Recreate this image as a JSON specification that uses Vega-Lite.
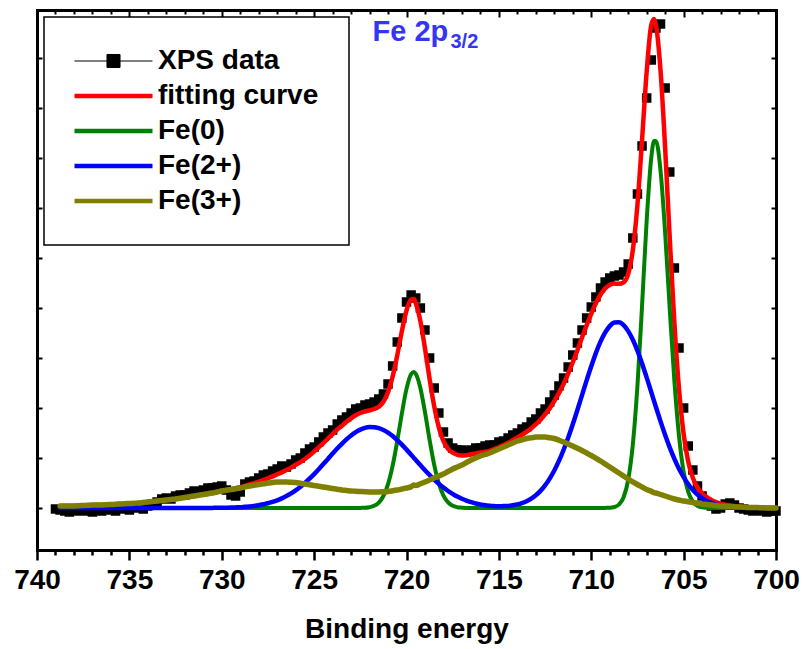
{
  "$schema": "https://vega.github.io/schema/vega-lite/v6.json",
  "width": 739,
  "height": 540,
  "autosize": "none",
  "padding": {"left": 37, "top": 10, "right": 27, "bottom": 99},
  "background": "white",
  "config": {"view": {"stroke": null}, "font": "Liberation Sans"},
  "data": {"values": [
    {"x":739.0,"xps":-1},
    {"x":738.75,"xps":-2,"fit":2,"fe0":0,"fe2":0,"fe3":2},
    {"x":738.5,"xps":-3,"fit":2,"fe0":0,"fe2":0,"fe3":2},
    {"x":738.25,"xps":-4,"fit":2,"fe0":0,"fe2":0,"fe3":2},
    {"x":738.0,"xps":-2,"fit":2,"fe0":0,"fe2":0,"fe3":2},
    {"x":737.75,"xps":-3,"fit":2.2,"fe0":0,"fe2":0,"fe3":2.2},
    {"x":737.5,"xps":-1,"fit":2.5,"fe0":0,"fe2":0,"fe3":2.5},
    {"x":737.25,"xps":-3,"fit":2.8,"fe0":0,"fe2":0,"fe3":2.8},
    {"x":737.0,"xps":-4,"fit":3,"fe0":0,"fe2":0,"fe3":3},
    {"x":736.75,"xps":-2,"fit":3,"fe0":0,"fe2":0,"fe3":3},
    {"x":736.5,"xps":-3,"fit":3,"fe0":0,"fe2":0,"fe3":3},
    {"x":736.25,"xps":-1,"fit":3.2,"fe0":0,"fe2":0,"fe3":3.2},
    {"x":736.0,"xps":-2,"fit":3.5,"fe0":0,"fe2":0,"fe3":3.5},
    {"x":735.75,"xps":-3,"fit":3.8,"fe0":0,"fe2":0,"fe3":3.8},
    {"x":735.5,"xps":0,"fit":4,"fe0":0,"fe2":0,"fe3":4},
    {"x":735.25,"xps":-1,"fit":4.2,"fe0":0,"fe2":0,"fe3":4.2},
    {"x":735.0,"xps":-2,"fit":4.5,"fe0":0,"fe2":0,"fe3":4.5},
    {"x":734.75,"xps":1,"fit":4.8,"fe0":0,"fe2":0,"fe3":4.8},
    {"x":734.5,"xps":0,"fit":5,"fe0":0,"fe2":0,"fe3":5},
    {"x":734.25,"xps":-1,"fit":5.5,"fe0":0,"fe2":0,"fe3":5.5},
    {"x":734.0,"xps":2,"fit":6,"fe0":0,"fe2":0,"fe3":6},
    {"x":733.75,"xps":4,"fit":6.5,"fe0":0,"fe2":0,"fe3":6.5},
    {"x":733.5,"xps":6,"fit":7,"fe0":0,"fe2":0,"fe3":7},
    {"x":733.25,"xps":9,"fit":7.5,"fe0":0,"fe2":0,"fe3":7.5},
    {"x":733.0,"xps":10,"fit":8,"fe0":0,"fe2":0,"fe3":8},
    {"x":732.75,"xps":9,"fit":8.5,"fe0":0,"fe2":0,"fe3":8.5},
    {"x":732.5,"xps":12,"fit":9,"fe0":0,"fe2":0,"fe3":9},
    {"x":732.25,"xps":13,"fit":9.8,"fe0":0,"fe2":0,"fe3":9.8},
    {"x":732.0,"xps":13,"fit":10.5,"fe0":0,"fe2":0,"fe3":10.5},
    {"x":731.75,"xps":15,"fit":11.2,"fe0":0,"fe2":0,"fe3":11.2},
    {"x":731.5,"xps":17,"fit":12,"fe0":0,"fe2":0,"fe3":12},
    {"x":731.25,"xps":16,"fit":12.8,"fe0":0,"fe2":0,"fe3":12.8},
    {"x":731.0,"xps":18,"fit":13.5,"fe0":0,"fe2":0,"fe3":13.5},
    {"x":730.75,"xps":20,"fit":14.2,"fe0":0,"fe2":0,"fe3":14.2},
    {"x":730.5,"xps":20,"fit":15.1,"fe0":0,"fe2":0.1,"fe3":15},
    {"x":730.25,"xps":21,"fit":16.2,"fe0":0,"fe2":0.2,"fe3":16},
    {"x":730.0,"xps":22,"fit":17.2,"fe0":0,"fe2":0.2,"fe3":17},
    {"x":729.75,"xps":18,"fit":18.1,"fe0":0,"fe2":0.3,"fe3":17.8},
    {"x":729.5,"xps":13,"fit":18.9,"fe0":0,"fe2":0.4,"fe3":18.5},
    {"x":729.25,"xps":12,"fit":19.8,"fe0":0,"fe2":0.6,"fe3":19.2},
    {"x":729.0,"xps":16,"fit":20.8,"fe0":0,"fe2":0.8,"fe3":20},
    {"x":728.75,"xps":24,"fit":22.2,"fe0":0,"fe2":1.2,"fe3":21},
    {"x":728.5,"xps":26,"fit":23.6,"fe0":0,"fe2":1.6,"fe3":22},
    {"x":728.25,"xps":27,"fit":24.9,"fe0":0,"fe2":2.1,"fe3":22.8},
    {"x":728.0,"xps":30,"fit":26.3,"fe0":0,"fe2":2.8,"fe3":23.5},
    {"x":727.75,"xps":33,"fit":27.9,"fe0":0,"fe2":3.7,"fe3":24.2},
    {"x":727.5,"xps":34,"fit":29.7,"fe0":0,"fe2":4.7,"fe3":25},
    {"x":727.25,"xps":37,"fit":31.6,"fe0":0,"fe2":6.1,"fe3":25.5},
    {"x":727.0,"xps":39,"fit":33.7,"fe0":0,"fe2":7.7,"fe3":26},
    {"x":726.75,"xps":42,"fit":35.6,"fe0":0,"fe2":9.6,"fe3":26},
    {"x":726.5,"xps":41,"fit":37.9,"fe0":0,"fe2":11.9,"fe3":26},
    {"x":726.25,"xps":44,"fit":40.4,"fe0":0,"fe2":14.6,"fe3":25.8},
    {"x":726.0,"xps":48,"fit":43.2,"fe0":0,"fe2":17.7,"fe3":25.5},
    {"x":725.75,"xps":50,"fit":45.9,"fe0":0,"fe2":21.1,"fe3":24.8},
    {"x":725.5,"xps":55,"fit":49,"fe0":0,"fe2":25,"fe3":24},
    {"x":725.25,"xps":59,"fit":52.5,"fe0":0,"fe2":29.3,"fe3":23.2},
    {"x":725.0,"xps":61,"fit":56.4,"fe0":0,"fe2":33.9,"fe3":22.5},
    {"x":724.75,"xps":66,"fit":60.6,"fe0":0,"fe2":38.8,"fe3":21.8},
    {"x":724.5,"xps":71,"fit":64.9,"fe0":0,"fe2":43.9,"fe3":21},
    {"x":724.25,"xps":75,"fit":69.3,"fe0":0,"fe2":49.1,"fe3":20.2},
    {"x":724.0,"xps":78,"fit":73.9,"fe0":0,"fe2":54.4,"fe3":19.5},
    {"x":723.75,"xps":84,"fit":78.3,"fe0":0,"fe2":59.5,"fe3":18.8},
    {"x":723.5,"xps":88,"fit":82.2,"fe0":0,"fe2":64.2,"fe3":18},
    {"x":723.25,"xps":91,"fit":86.2,"fe0":0,"fe2":68.7,"fe3":17.5},
    {"x":723.0,"xps":95,"fit":89.6,"fe0":0,"fe2":72.6,"fe3":17},
    {"x":722.75,"xps":99,"fit":92.7,"fe0":0,"fe2":75.9,"fe3":16.8},
    {"x":722.5,"xps":100,"fit":95,"fe0":0.1,"fe2":78.4,"fe3":16.5},
    {"x":722.25,"xps":103,"fit":96.5,"fe0":0.2,"fe2":80.1,"fe3":16.2},
    {"x":722.0,"xps":104,"fit":97.7,"fe0":0.8,"fe2":80.9,"fe3":16},
    {"x":721.75,"xps":106,"fit":99,"fe0":2.2,"fe2":80.8,"fe3":16},
    {"x":721.5,"xps":109,"fit":101.2,"fe0":5.4,"fe2":79.8,"fe3":16},
    {"x":721.25,"xps":114,"fit":106.2,"fe0":12,"fe2":78,"fe3":16.2},
    {"x":721.0,"xps":124,"fit":115.7,"fe0":23.9,"fe2":75.3,"fe3":16.5},
    {"x":720.75,"xps":142,"fit":131.5,"fe0":42.4,"fe2":71.9,"fe3":17.2},
    {"x":720.5,"xps":166,"fit":152.8,"fe0":67,"fe2":67.8,"fe3":18},
    {"x":720.25,"xps":190,"fit":176.9,"fe0":94.6,"fe2":63.3,"fe3":19},
    {"x":720.0,"xps":206,"fit":197.5,"fe0":119.1,"fe2":58.4,"fe3":20},
    {"x":719.75,"xps":213,"fit":208.4,"fe0":133.9,"fe2":53.3,"fe3":21.2},
    {"x":719.6,"fit":209.1,"fe0":136,"fe2":50.1,"fe3":23},
    {"x":719.5,"xps":210,"fit":204.8,"fe0":134.2,"fe2":48.1,"fe3":22.5},
    {"x":719.25,"xps":200,"fit":187.1,"fe0":120,"fe2":42.9,"fe3":24.2},
    {"x":719.0,"xps":178,"fit":159.6,"fe0":95.8,"fe2":37.8,"fe3":26},
    {"x":718.75,"xps":150,"fit":129.1,"fe0":68.1,"fe2":33,"fe3":28},
    {"x":718.5,"xps":120,"fit":101.6,"fe0":43.2,"fe2":28.4,"fe3":30},
    {"x":718.25,"xps":95,"fit":80.7,"fe0":24.5,"fe2":24.2,"fe3":32},
    {"x":718.0,"xps":76,"fit":66.8,"fe0":12.4,"fe2":20.4,"fe3":34},
    {"x":717.75,"xps":65,"fit":59.1,"fe0":5.6,"fe2":17,"fe3":36.5},
    {"x":717.5,"xps":60,"fit":55.3,"fe0":2.2,"fe2":14.1,"fe3":39},
    {"x":717.25,"xps":58,"fit":53.2,"fe0":0.8,"fe2":11.4,"fe3":41},
    {"x":717.0,"xps":58,"fit":52.5,"fe0":0.3,"fe2":9.2,"fe3":43},
    {"x":716.75,"xps":56,"fit":52.8,"fe0":0,"fe2":7.3,"fe3":45.5},
    {"x":716.5,"xps":58,"fit":53.8,"fe0":0,"fe2":5.8,"fe3":48},
    {"x":716.25,"xps":60,"fit":54.5,"fe0":0,"fe2":4.5,"fe3":50},
    {"x":716.0,"xps":60,"fit":55.5,"fe0":0,"fe2":3.5,"fe3":52},
    {"x":715.75,"xps":62,"fit":56.2,"fe0":0,"fe2":2.7,"fe3":53.5},
    {"x":715.5,"xps":63,"fit":57.2,"fe0":0,"fe2":2.2,"fe3":55},
    {"x":715.25,"xps":63,"fit":58.9,"fe0":0,"fe2":1.9,"fe3":57},
    {"x":715.0,"xps":66,"fit":60.7,"fe0":0,"fe2":1.7,"fe3":59},
    {"x":714.75,"xps":67,"fit":62.9,"fe0":0,"fe2":1.9,"fe3":61},
    {"x":714.5,"xps":70,"fit":65.1,"fe0":0,"fe2":2.1,"fe3":63},
    {"x":714.25,"xps":73,"fit":67.8,"fe0":0,"fe2":2.8,"fe3":65},
    {"x":714.0,"xps":75,"fit":70.6,"fe0":0,"fe2":3.6,"fe3":67},
    {"x":713.75,"xps":79,"fit":73.1,"fe0":0,"fe2":4.9,"fe3":68.2},
    {"x":713.5,"xps":81,"fit":76.3,"fe0":0,"fe2":6.8,"fe3":69.5},
    {"x":713.25,"xps":86,"fit":79.6,"fe0":0,"fe2":9.4,"fe3":70.2},
    {"x":713.0,"xps":89,"fit":83.7,"fe0":0,"fe2":12.7,"fe3":71},
    {"x":712.75,"xps":95,"fit":88.1,"fe0":0,"fe2":17.1,"fe3":71},
    {"x":712.5,"xps":99,"fit":93.6,"fe0":0,"fe2":22.6,"fe3":71},
    {"x":712.25,"xps":106,"fit":99.6,"fe0":0,"fe2":29.4,"fe3":70.2},
    {"x":712.0,"xps":113,"fit":107,"fe0":0,"fe2":37.5,"fe3":69.5},
    {"x":711.75,"xps":122,"fit":114.9,"fe0":0,"fe2":47.1,"fe3":67.8},
    {"x":711.5,"xps":130,"fit":124,"fe0":0,"fe2":58,"fe3":66},
    {"x":711.25,"xps":141,"fit":134.3,"fe0":0,"fe2":70.3,"fe3":64},
    {"x":711.0,"xps":153,"fit":145.7,"fe0":0,"fe2":83.7,"fe3":62},
    {"x":710.75,"xps":165,"fit":157.8,"fe0":0,"fe2":98,"fe3":59.8},
    {"x":710.5,"xps":178,"fit":170.4,"fe0":0,"fe2":112.9,"fe3":57.5},
    {"x":710.25,"xps":190,"fit":182.6,"fe0":0,"fe2":127.6,"fe3":55},
    {"x":710.0,"xps":201,"fit":194.2,"fe0":0,"fe2":141.7,"fe3":52.5},
    {"x":709.75,"xps":211,"fit":204.7,"fe0":0,"fe2":154.9,"fe3":49.8},
    {"x":709.5,"xps":220,"fit":213.3,"fe0":0,"fe2":166.3,"fe3":47},
    {"x":709.25,"xps":226,"fit":219.5,"fe0":0.1,"fe2":175.4,"fe3":44},
    {"x":709.0,"xps":230,"fit":223.1,"fe0":0.2,"fe2":181.9,"fe3":41},
    {"x":708.75,"xps":232,"fit":224.4,"fe0":1,"fe2":185.4,"fe3":38},
    {"x":708.5,"xps":233,"fit":224.2,"fe0":3.5,"fe2":185.7,"fe3":35},
    {"x":708.25,"xps":236,"fit":225.7,"fe0":10.8,"fe2":182.9,"fe3":32},
    {"x":708.0,"xps":244,"fit":234.1,"fe0":28.2,"fe2":176.9,"fe3":29},
    {"x":707.75,"xps":270,"fit":257.9,"fe0":63.4,"fe2":168.3,"fe3":26.2},
    {"x":707.5,"xps":314,"fit":303.1,"fe0":122.2,"fe2":157.4,"fe3":23.5},
    {"x":707.25,"xps":362,"fit":368,"fe0":202.4,"fe2":144.6,"fe3":21},
    {"x":707.0,"xps":410,"fit":436.3,"fe0":287.4,"fe2":130.4,"fe3":18.5},
    {"x":706.75,"xps":448,"fit":483.2,"fe0":350.5,"fe2":115.9,"fe3":16.8},
    {"x":706.6,"fit":489.1,"fe0":367,"fe2":106.8,"fe3":15.3},
    {"x":706.5,"xps":480,"fit":483.1,"fe0":367.1,"fe2":101,"fe3":15},
    {"x":706.25,"xps":484,"fit":437.6,"fe0":337.5,"fe2":86.6,"fe3":13.5},
    {"x":706.0,"xps":420,"fit":359.9,"fe0":274.9,"fe2":73,"fe3":12},
    {"x":705.75,"xps":336,"fit":269.4,"fe0":198.5,"fe2":60.4,"fe3":10.5},
    {"x":705.5,"xps":240,"fit":185.2,"fe0":127,"fe2":49.2,"fe3":9},
    {"x":705.25,"xps":160,"fit":119.2,"fe0":72,"fe2":39.2,"fe3":8},
    {"x":705.0,"xps":100,"fit":74.1,"fe0":36.2,"fe2":30.9,"fe3":7},
    {"x":704.75,"xps":62,"fit":46.2,"fe0":16.2,"fe2":23.8,"fe3":6.2},
    {"x":704.5,"xps":38,"fit":30,"fe0":6.4,"fe2":18.1,"fe3":5.5},
    {"x":704.25,"xps":22,"fit":20.5,"fe0":2.2,"fe2":13.5,"fe3":4.8},
    {"x":704.0,"xps":12,"fit":14.6,"fe0":0.7,"fe2":9.9,"fe3":4},
    {"x":703.75,"xps":6,"fit":10.8,"fe0":0.2,"fe2":7.1,"fe3":3.5},
    {"x":703.5,"xps":2,"fit":8.1,"fe0":0,"fe2":5.1,"fe3":3},
    {"x":703.25,"xps":-1,"fit":6,"fe0":0,"fe2":3.5,"fe3":2.5},
    {"x":703.0,"xps":0,"fit":4.4,"fe0":0,"fe2":2.4,"fe3":2},
    {"x":702.75,"xps":4,"fit":3.4,"fe0":0,"fe2":1.6,"fe3":1.8},
    {"x":702.5,"xps":5,"fit":2.6,"fe0":0,"fe2":1.1,"fe3":1.5},
    {"x":702.25,"xps":3,"fit":1.9,"fe0":0,"fe2":0.7,"fe3":1.2},
    {"x":702.0,"xps":0,"fit":1.4,"fe0":0,"fe2":0.4,"fe3":1},
    {"x":701.75,"xps":-1,"fit":1.1,"fe0":0,"fe2":0.3,"fe3":0.8},
    {"x":701.5,"xps":-2,"fit":0.7,"fe0":0,"fe2":0.2,"fe3":0.5},
    {"x":701.25,"xps":-3,"fit":0.6,"fe0":0,"fe2":0.1,"fe3":0.5},
    {"x":701.0,"xps":-2,"fit":0.5,"fe0":0,"fe2":0,"fe3":0.5},
    {"x":700.75,"xps":-3,"fit":0.2,"fe0":0,"fe2":0,"fe3":0.2},
    {"x":700.5,"xps":-4,"fit":0,"fe0":0,"fe2":0,"fe3":0},
    {"x":700.25,"xps":-3,"fit":0,"fe0":0,"fe2":0,"fe3":0},
    {"x":700.0,"xps":-3,"fit":0,"fe0":0,"fe2":0,"fe3":0}
  ]},
  "transform": [
    {"fold": ["xps", "fit", "fe0", "fe2", "fe3"], "as": ["series", "y"]},
    {"filter": "isValid(datum.y)"}
  ],
  "resolve": {"axis": {"x": "independent", "y": "independent"}},
  "layer": [
    {
      "transform": [{"filter": "datum.series === 'xps'"}],
      "mark": {"type": "point", "shape": "square", "filled": true, "size": 90, "opacity": 1, "color": "black"},
      "encoding": {
        "x": {"field": "x", "type": "quantitative",
          "scale": {"domain": [700, 740], "reverse": true, "nice": false, "zero": false},
          "axis": {"orient": "top", "values": [700,701,702,703,704,705,706,707,708,709,710,711,712,713,714,715,716,717,718,719,720,721,722,723,724,725,726,727,728,729,730,731,732,733,734,735,736,737,738,739,740],
            "labels": false, "title": null, "grid": false,
            "tickSize": {"condition": {"test": "datum.value % 5 === 0", "value": -7}, "value": -4},
            "tickColor": "black", "tickWidth": 2, "domainColor": "black", "domainWidth": 3, "domainCap": "square"}},
        "y": {"field": "y", "type": "quantitative",
          "scale": {"domain": [-42, 498], "nice": false, "zero": false},
          "axis": {"orient": "right", "values": [0,50,100,150,200,250,300,350,400,450],
            "labels": false, "title": null, "grid": false, "tickSize": -5,
            "tickColor": "black", "tickWidth": 2, "domainColor": "black", "domainWidth": 3, "domainCap": "square"}}
      }
    },
    {
      "transform": [{"filter": "datum.series !== 'xps'"}],
      "mark": {"type": "line", "interpolate": "monotone", "strokeJoin": "round", "strokeCap": "round"},
      "encoding": {
        "x": {"field": "x", "type": "quantitative",
          "scale": {"domain": [700, 740], "reverse": true, "nice": false, "zero": false},
          "axis": {"orient": "bottom", "values": [700,701,702,703,704,705,706,707,708,709,710,711,712,713,714,715,716,717,718,719,720,721,722,723,724,725,726,727,728,729,730,731,732,733,734,735,736,737,738,739,740],
            "labelExpr": "datum.value % 5 === 0 ? datum.label : ''",
            "labelFlush": false, "labelOverlap": false, "grid": false,
            "tickSize": {"condition": {"test": "datum.value % 5 === 0", "value": 10}, "value": 5},
            "tickColor": "black", "tickWidth": 2.5, "domainColor": "black", "domainWidth": 3, "domainCap": "square",
            "labelFont": "Liberation Sans", "labelFontSize": 28, "labelFontWeight": "bold", "labelColor": "black", "labelPadding": 6,
            "title": "Binding energy", "titleFont": "Liberation Sans", "titleFontSize": 28, "titleFontWeight": "bold", "titleColor": "black", "titlePadding": 21}},
        "y": {"field": "y", "type": "quantitative",
          "scale": {"domain": [-42, 498], "nice": false, "zero": false},
          "axis": {"orient": "left", "values": [0,50,100,150,200,250,300,350,400,450],
            "labels": false, "title": null, "grid": false, "tickSize": -5,
            "tickColor": "black", "tickWidth": 2, "domainColor": "black", "domainWidth": 3, "domainCap": "square"}},
        "color": {"field": "series", "type": "nominal",
          "scale": {"domain": ["xps", "fit", "fe0", "fe2", "fe3"], "range": ["#000000", "#ff0000", "#008000", "#0000ff", "#808000"]},
          "legend": {
            "orient": "top-left", "offset": 7, "title": null,
            "labelExpr": "{'xps': 'XPS data', 'fit': 'fitting curve', 'fe0': 'Fe(0)', 'fe2': 'Fe(2+)', 'fe3': 'Fe(3+)'}[datum.label]",
            "labelFont": "Liberation Sans", "labelFontSize": 28, "labelFontWeight": "bold", "labelColor": "black", "labelLimit": 500,
            "symbolSize": 225, "symbolStrokeWidth": 1.5, "labelOffset": 56,
            "padding": 30, "rowPadding": 7,
            "strokeColor": "black", "fillColor": "white",
            "encode": {
              "symbols": {"update": {
                "shape": {"signal": "datum.value === 'xps' ? 'M-1.8,0H8.6M2.53,-0.87H4.27V0.87H2.53Z' : 'M-1.8,0H8.6'"},
                "fill": {"signal": "datum.value === 'xps' ? 'black' : 'transparent'"},
                "strokeWidth": {"signal": "datum.value === 'xps' ? 1 : 4.5"}
              }},
              "legend": {"update": {"strokeWidth": {"value": 1.5}}}
            }
          }},
        "strokeWidth": {"condition": [{"test": "datum.series === 'fe3'", "value": 5.5}, {"test": "datum.series === 'fe0'", "value": 4}], "value": 4.5}
      }
    },
    {
      "data": {"values": [{}]},
      "mark": {"type": "text", "align": "left", "baseline": "alphabetic", "font": "Liberation Sans", "fontWeight": "bold", "fontSize": 29, "color": "#3535f5", "text": "Fe 2p"},
      "encoding": {
        "x": {"datum": 721.84, "type": "quantitative", "axis": null},
        "y": {"datum": 467, "type": "quantitative", "axis": null}
      }
    },
    {
      "data": {"values": [{}]},
      "mark": {"type": "text", "align": "left", "baseline": "alphabetic", "font": "Liberation Sans", "fontWeight": "bold", "fontSize": 20, "color": "#3535f5", "text": "3/2"},
      "encoding": {
        "x": {"datum": 717.62, "type": "quantitative", "axis": null},
        "y": {"datum": 460, "type": "quantitative", "axis": null}
      }
    }
  ]
}
